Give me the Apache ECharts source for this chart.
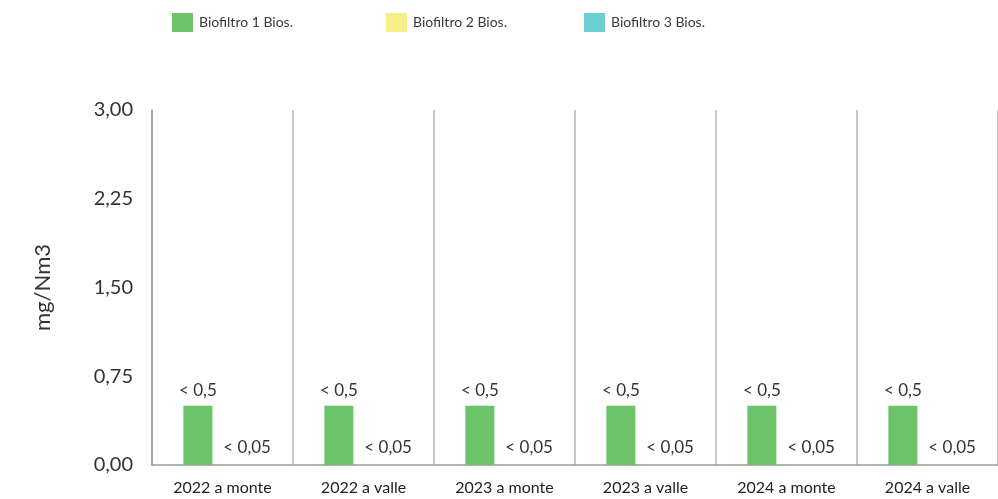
<!DOCTYPE html>
<html>
<head>
<meta charset="utf-8">
<script src="https://cdn.jsdelivr.net/npm/echarts@6/dist/echarts.min.js"></script>
<style>
  html, body { margin: 0; padding: 0; background: #fff; }
  #chart { width: 998px; height: 499px; }
</style>
</head>
<body>
<div id="chart"></div>
<script>
// dati
const categories = ['2022 a monte', '2022 a valle', '2023 a monte', '2023 a valle', '2024 a monte', '2024 a valle']
const bio1 = [0.5, 0.5, 0.5, 0.5, 0.5, 0.5]
const bio2 = [0.05, 0.05, 0.05, 0.05, 0.05, 0.05]
const bio3 = []
const bio1Labels = ['< 0,5', '< 0,5', '< 0,5', '< 0,5', '< 0,5', '< 0,5']
const bio2Labels = ['< 0,05', '< 0,05', '< 0,05', '< 0,05', '< 0,05', '< 0,05']
const yTicks = [0, 0.75, 1.5, 2.25, 3]
const seriesNames = ['Biofiltro 1 Bios.', 'Biofiltro 2 Bios.', 'Biofiltro 3 Bios.']
const seriesColors = ['#6cc36a', '#f6ee86', '#6ccfcf']

const fontFam = 'Lato, "Open Sans", sans-serif'
const myChart = echarts.init(document.getElementById('chart'))

// una legenda per voce, per posizionarle come nell'originale
const legendLeft = [172, 386, 584]
const legends = seriesNames.map((n, i) => ({
  left: legendLeft[i],
  top: 13,
  padding: 0,
  itemWidth: 21,
  itemHeight: 19,
  icon: 'rect',
  textStyle: { fontSize: 14, color: '#3a3a3a', fontFamily: fontFam, padding: [0, 0, 0, 1] },
  data: [{ name: n, itemStyle: { color: seriesColors[i], opacity: 1 } }]
}))

const option = {
  animation: false,
  textStyle: { fontFamily: fontFam },
  grid: { left: 152, right: 0, top: 110, bottom: 34, containLabel: false },
  legend: legends,
  xAxis: {
    type: 'category',
    data: categories,
    axisTick: { show: false },
    axisLine: { lineStyle: { color: '#9a9a9a', width: 1.5 } },
    axisLabel: { fontSize: 16, color: '#222', margin: 15, fontFamily: fontFam },
    splitLine: { show: true, lineStyle: { color: '#b5b5b5', width: 1.5 } }
  },
  yAxis: {
    type: 'value',
    min: yTicks[0],
    max: yTicks[yTicks.length - 1],
    interval: 0.75,
    name: 'mg/Nm3',
    nameLocation: 'middle',
    nameGap: 98,
    nameRotate: 90,
    nameTextStyle: { fontSize: 22, color: '#333', fontFamily: fontFam },
    axisLine: { show: true, lineStyle: { color: '#9a9a9a', width: 1.5 } },
    axisTick: { show: false },
    splitLine: { show: false },
    axisLabel: {
      fontSize: 20,
      color: '#333',
      margin: 19,
      fontFamily: fontFam,
      formatter: v => v.toFixed(2).replace('.', ',')
    }
  },
  series: [
    {
      name: seriesNames[0],
      type: 'bar',
      barWidth: 29,
      barGap: '70%',
      itemStyle: { color: seriesColors[0] },
      label: {
        show: true,
        position: 'top',
        distance: 7,
        fontSize: 17,
        color: '#333',
        fontFamily: fontFam,
        formatter: p => bio1Labels[p.dataIndex]
      },
      data: bio1
    },
    {
      name: seriesNames[1],
      type: 'bar',
      barWidth: 29,
      itemStyle: { color: 'rgba(0,0,0,0)' },
      label: {
        show: true,
        position: 'top',
        distance: 3,
        fontSize: 17,
        color: '#333',
        fontFamily: fontFam,
        formatter: p => bio2Labels[p.dataIndex]
      },
      data: bio2
    },
    {
      name: seriesNames[2],
      type: 'line',
      color: seriesColors[2],
      data: bio3
    }
  ]
}

myChart.setOption(option)
</script>
</body>
</html>
